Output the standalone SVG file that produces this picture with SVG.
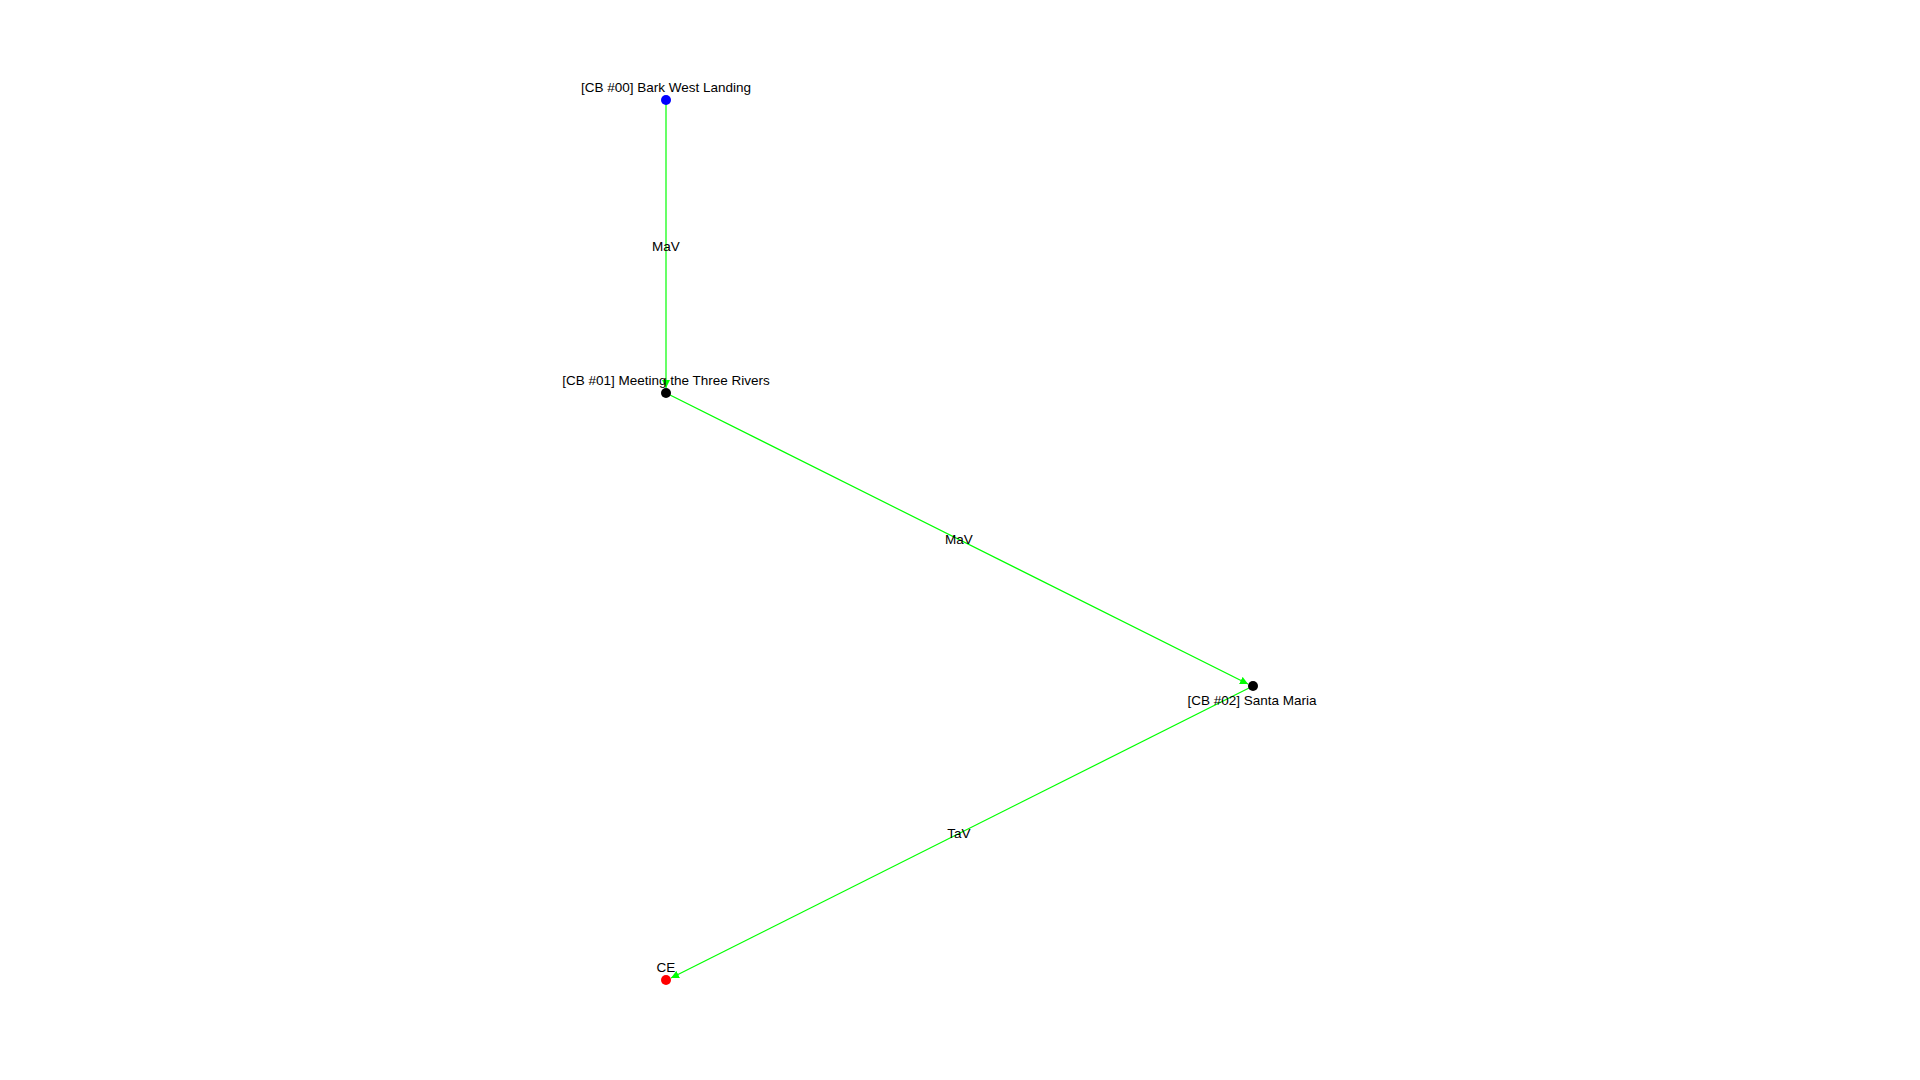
<svg xmlns="http://www.w3.org/2000/svg" width="1920" height="1080" viewBox="0 0 1920 1080">
<style>
text{font-family:"Liberation Sans",Arial,sans-serif;font-size:13.5px;fill:#000;text-anchor:middle}
.e{stroke:#00ff00;stroke-width:1.2;fill:none;marker-end:url(#a)}
</style>
<defs><marker id="a" viewBox="0 0 10 10" refX="10" refY="5" markerWidth="8" markerHeight="8" markerUnits="userSpaceOnUse" orient="auto"><path d="M0,0L10,5L0,10z" fill="#00ff00"/></marker></defs>
<rect width="1920" height="1080" fill="#fff"/>
<g id="edges">
<line class="e" x1="666" y1="100" x2="666" y2="388"/>
<line class="e" x1="666" y1="393" x2="1248" y2="684"/>
<line class="e" x1="1253" y1="686" x2="671" y2="978"/>
<text x="666" y="251">MaV</text>
<text x="959" y="544">MaV</text>
<text x="959" y="838">TaV</text>
</g>
<g id="n0"><circle cx="666" cy="100" r="5" fill="#0000ff"/><text x="666" y="92">[CB #00] Bark West Landing</text></g>
<g id="n1"><circle cx="666" cy="393" r="5" fill="#000"/><text x="666" y="385">[CB #01] Meeting the Three Rivers</text></g>
<g id="n2"><circle cx="1253" cy="686" r="5" fill="#000"/><text x="1252" y="705">[CB #02] Santa Maria</text></g>
<g id="n3"><circle cx="666" cy="980" r="5" fill="#ff0000"/><text x="666" y="972">CE</text></g>
</svg>
